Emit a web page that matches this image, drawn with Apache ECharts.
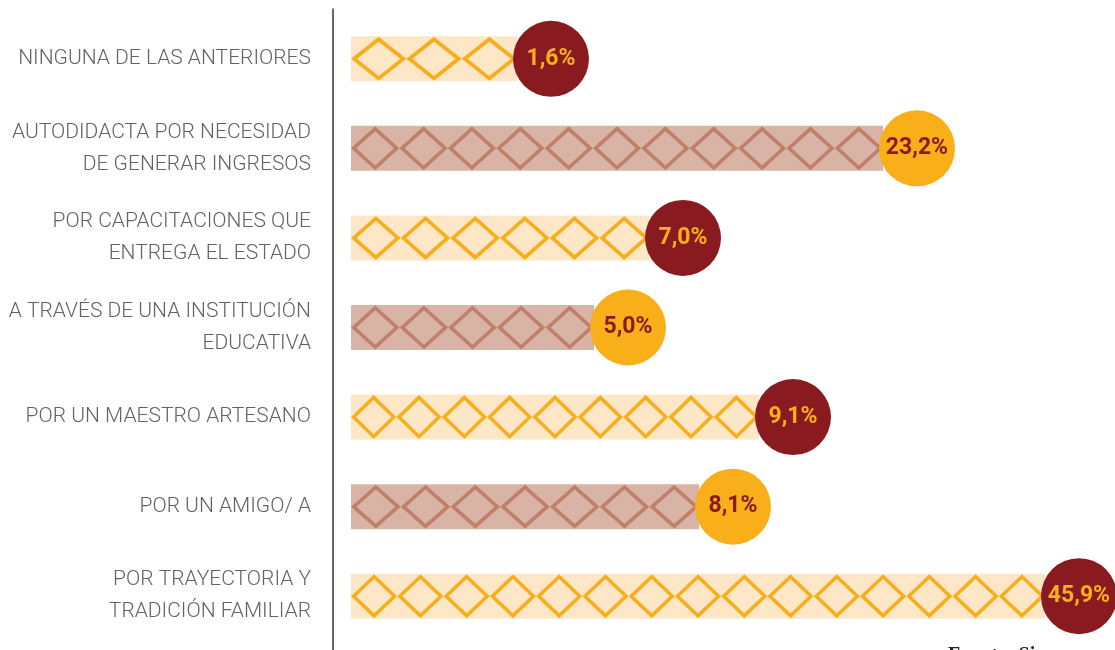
<!DOCTYPE html>
<html>
<head>
<meta charset="utf-8">
<script src="https://cdn.jsdelivr.net/npm/echarts@6/dist/echarts.min.js"></script>
<style>
html,body{margin:0;padding:0;background:#fff;}
#c{width:1115px;height:650px;}
</style>
</head>
<body>
<div id="c"></div>
<script>
// Categories (top to bottom)
const categories = [
  'NINGUNA DE LAS ANTERIORES',
  'AUTODIDACTA POR NECESIDAD\nDE GENERAR INGRESOS',
  'POR CAPACITACIONES QUE\nENTREGA EL ESTADO',
  'A TRAVÉS DE UNA INSTITUCIÓN\nEDUCATIVA',
  'POR UN MAESTRO ARTESANO',
  'POR UN AMIGO/ A',
  'POR TRAYECTORIA Y\nTRADICIÓN FAMILIAR'
];
// Percent values shown in the circles
const percent = [1.6, 23.2, 7.0, 5.0, 9.1, 8.1, 45.9];
// Visual bar length as drawn in the infographic (axis units)
const barLength = [166, 532, 298, 243, 408, 348, 694];
// Number of diamonds drawn in each bar
const diamonds = [3, 11, 6, 5, 9, 7, 15];

const C = {
  bandLight: '#FDE7C6', diaYellow: '#F8AE1A',
  bandBrown: '#D9B4A6', diaBrown: '#BF7F6A',
  darkRed: '#891A1F', yellow: '#F8AF1A'
};
const isYellow = i => i % 2 === 0;
// diamond outline as a ring-shaped path (outer clockwise, inner reversed)
const diamondRing = 'path://M0 50 L50 0 L100 50 L50 100 Z M11 50 L50 89 L89 50 L50 11 Z';

const chart = echarts.init(document.getElementById('c'), null, {renderer: 'canvas'});
chart.setOption({
  animation: false,
  backgroundColor: '#ffffff',
  title: {
    text: 'Fuente: Si',
    left: 943, top: 641,
    textStyle: {fontFamily: 'Liberation Serif', fontWeight: 'bold', fontSize: 20, color: '#222'}
  },
  grid: [
    {left: 351, right: 0, top: 14, bottom: 9, containLabel: false},
    {left: 351, right: 0, top: 9, bottom: 0, containLabel: false}
  ],
  xAxis: [
    {type: 'value', min: 0, max: 764, show: false, gridIndex: 0},
    {type: 'value', min: 0, max: 1, show: false, gridIndex: 1}
  ],
  yAxis: [
    {
      type: 'category', inverse: true, data: categories, offset: 18, gridIndex: 0,
      axisLine: {show: false, onZero: false},
      axisTick: {show: false},
      splitLine: {show: false},
      axisLabel: {
        margin: 22, color: '#626262', fontSize: 21, lineHeight: 32,
        fontFamily: 'Roboto', fontWeight: 300, align: 'right'
      }
    },
    {
      type: 'category', data: [''], offset: 18, gridIndex: 1,
      axisLine: {show: true, onZero: false, lineStyle: {color: '#333333', width: 1.5}},
      axisTick: {show: false}, axisLabel: {show: false}, splitLine: {show: false}
    }
  ],
  series: [
    {
      type: 'bar', barWidth: 45, barGap: '-100%', silent: true, z: 1,
      data: barLength.map((v, i) => ({value: v, itemStyle: {color: isYellow(i) ? C.bandLight : C.bandBrown}}))
    },
    {
      type: 'pictorialBar', barWidth: 45, barGap: '-100%', symbol: diamondRing, symbolClip: false, z: 2,
      silent: true,
      data: barLength.map((v, i) => ({
        value: v,
        symbolRepeat: diamonds[i],
        symbolBoundingData: v,
        symbolMargin: 0,
        symbolSize: [v / diamonds[i], 44],
        itemStyle: {color: isYellow(i) ? C.diaYellow : C.diaBrown, opacity: 1}
      }))
    },
    {
      type: 'scatter', clip: false, z: 5, symbolSize: 76, silent: true,
      data: barLength.map((v, i) => ({
        value: [v + 34, i],
        itemStyle: {color: isYellow(i) ? C.darkRed : C.yellow, opacity: 1},
        label: {color: isYellow(i) ? C.yellow : C.darkRed}
      })),
      label: {
        show: true, position: 'inside', fontSize: 23, fontWeight: 'bold', fontFamily: 'Roboto',
        formatter: p => percent[p.dataIndex].toFixed(1).replace('.', ',') + '%'
      }
    }
  ]
});
</script>
</body>
</html>
